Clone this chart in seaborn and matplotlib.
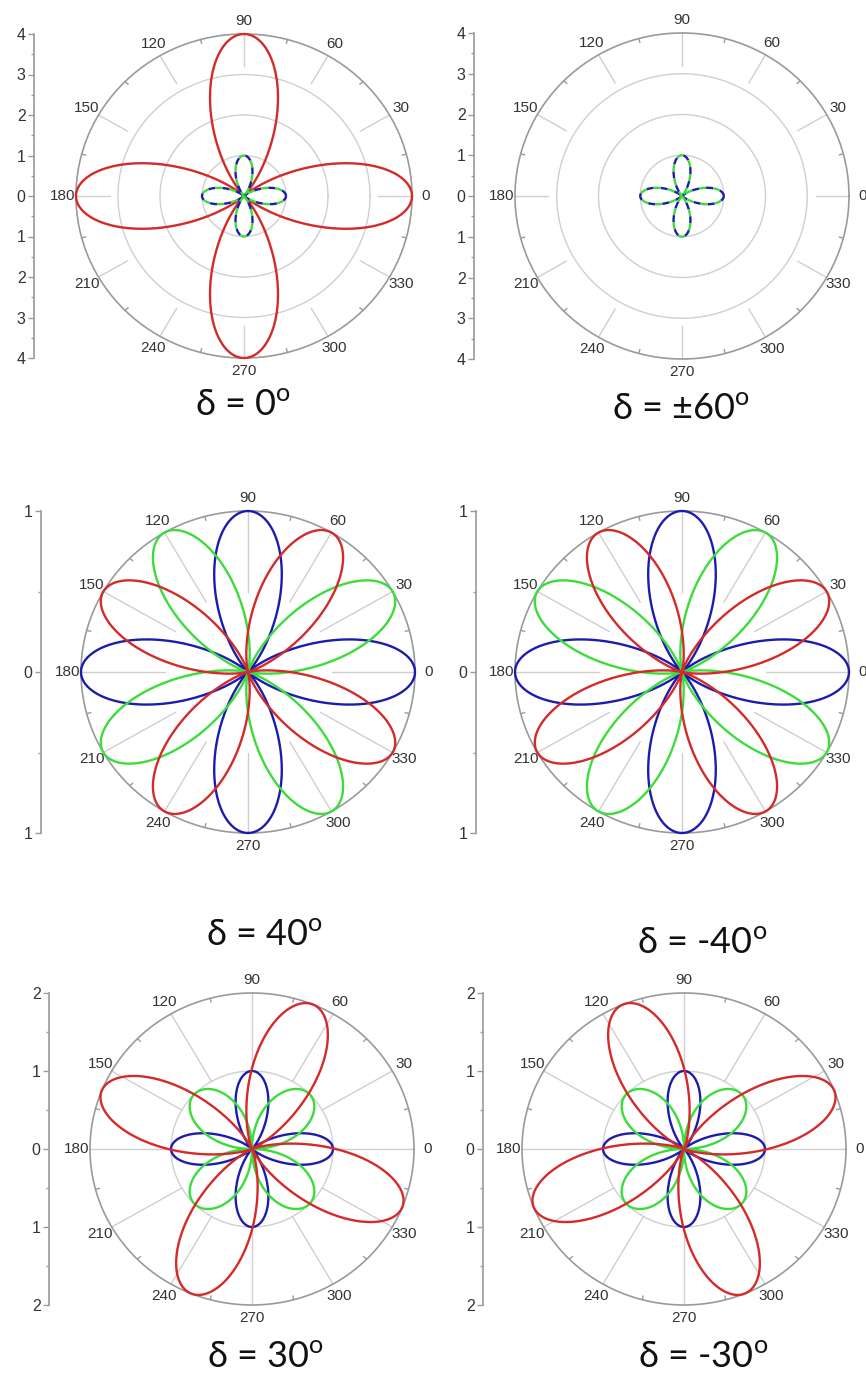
import numpy as np
import matplotlib
matplotlib.use("Agg")
import matplotlib.pyplot as plt
from matplotlib.ticker import FuncFormatter, MultipleLocator
import seaborn as sns

sns.set_theme(style="white")
plt.rcParams["font.family"] = ["Liberation Sans", "DejaVu Sans"]

# ---- data -------------------------------------------------------------
titles = ["δ = 0", "δ = ±60", "δ = 40", "δ = -40", "δ = 30", "δ = -30"]
r_max = [4, 4, 1, 1, 2, 2]
ring_radii = [[1, 2, 3], [1, 2, 3], [], [], [1], [1]]
angle_ticks = list(range(0, 360, 30))

# lobe amplitude of each pattern
blue_amp = [1, 1, 1, 1, 1, 1]
green_amp = [1, 1, 1, 1, 1, 1]
red_amp = [4, 0, 1, 1, 2, 2]
# lobe orientation (deg)
blue_dir = [0, 0, 0, 0, 0, 0]
green_dir = [0, 0, 30, 60, 45, 45]
red_dir = [0, 0, 60, 30, 68, 22]
# lobe sharpness (power of |cos 2(theta - dir)|)
blue_pow = [2, 2, 2, 2, 2, 2]
green_pow = [2, 2, 2, 2, 1, 1]
red_pow = [2, 2, 2, 2, 2, 2]

# ---- layout (pixels) --------------------------------------------------
W, H = 866, 1395
# centre x, centre y, radius x, radius y, left axis x, title x, title y
panels = [
    (244, 196, 168, 162, 34, 243, 405),
    (682, 196, 167, 163, 474, 681, 410),
    (248, 672, 167, 161, 41, 264, 935),
    (682, 672, 167, 161, 476, 702, 943),
    (252, 1149, 162, 156, 49, 265, 1357),
    (684, 1149, 162, 156, 483, 703, 1357),
]
spoke_start = [0.8, 0.8, 0.5, 0.5, 0.5, 0.5]
paired_dash = [True, True, False, False, False, False]

RED, BLUE, GREEN = "#d42a2a", "#1c1cae", "#3ddc3d"
GRID, FRAME, TXT = "#cfcfcf", "#9a9a9a", "#333333"

fig = plt.figure(figsize=(W / 100, H / 100), dpi=100)
theta = np.linspace(0, 2 * np.pi, 1441)


def lobes(amp, direction, power):
    return amp * np.abs(np.cos(2 * (theta - np.deg2rad(direction)))) ** power


for i, (cx, cy, rx, ry, axx, tx, ty) in enumerate(panels):
    rm = r_max[i]
    ax = fig.add_axes([(cx - rx) / W, (H - cy - ry) / H, 2 * rx / W, 2 * ry / H],
                      projection="polar")
    ax.set_aspect("auto")
    ax.set_ylim(0, rm)
    ax.grid(False)
    ax.set_yticks([])
    ax.set_xticks(np.deg2rad(angle_ticks))
    ax.set_xticklabels([str(a) for a in angle_ticks])
    ax.tick_params(axis="x", labelsize=11, labelcolor=TXT, pad=2.5, length=0)
    ax.spines["polar"].set_color(FRAME)
    ax.spines["polar"].set_linewidth(1.2)
    ax.patch.set_alpha(0)

    # rings and spokes
    for rr in ring_radii[i]:
        ax.plot(theta, np.full_like(theta, rr), color=GRID, lw=1.0, zorder=1)
    for a in angle_ticks:
        t = np.deg2rad(a)
        ax.plot([t, t], [spoke_start[i] * rm, rm], color=GRID, lw=1.0, zorder=1)
    for a in range(15, 360, 30):
        t = np.deg2rad(a)
        ax.plot([t, t], [rm * 0.975, rm], color=FRAME, lw=1.0, zorder=2)

    # patterns
    curves = []
    if red_amp[i] > 0:
        curves.append((lobes(red_amp[i], red_dir[i], red_pow[i]), RED, "-"))
    if paired_dash[i]:
        curves.append((lobes(blue_amp[i], blue_dir[i], blue_pow[i]), BLUE, (0, (3, 3))))
        curves.append((lobes(green_amp[i], green_dir[i], green_pow[i]), GREEN, (3, (3, 3))))
    else:
        curves.insert(0, (lobes(green_amp[i], green_dir[i], green_pow[i]), GREEN, "-"))
        curves.insert(0, (lobes(blue_amp[i], blue_dir[i], blue_pow[i]), BLUE, "-"))
    for r, c, ls in curves:
        sns.lineplot(x=theta, y=r, ax=ax, sort=False, estimator=None,
                     color=c, lw=1.7, linestyle=ls, zorder=3, clip_on=False)
    ax.set_xlabel("")
    ax.set_ylabel("")

    # linear radial scale on the left
    axl = fig.add_axes([axx / W, (H - cy - ry) / H, 0.0005, 2 * ry / H])
    axl.set_ylim(-rm, rm)
    axl.set_xticks([])
    for s in ("top", "right", "bottom"):
        axl.spines[s].set_visible(False)
    axl.spines["left"].set_color(FRAME)
    axl.spines["left"].set_linewidth(1.2)
    axl.patch.set_visible(False)
    axl.yaxis.set_major_locator(MultipleLocator(1))
    axl.yaxis.set_minor_locator(MultipleLocator(0.5))
    axl.yaxis.set_major_formatter(FuncFormatter(lambda v, p: f"{abs(v):.0f}"))
    axl.tick_params(axis="y", which="major", length=4, width=1, color=FRAME,
                    labelsize=11.5, labelcolor=TXT, pad=2, left=True)
    axl.tick_params(axis="y", which="minor", length=2, width=1, color=FRAME, left=True)

    fig.text(tx / W, 1 - ty / H, titles[i] + r"$^{\mathregular{o}}$",
             ha="center", va="center", fontsize=26, color="#111111",
             family=["Lato", "DejaVu Sans"])

fig.savefig("out.png", dpi=100)
